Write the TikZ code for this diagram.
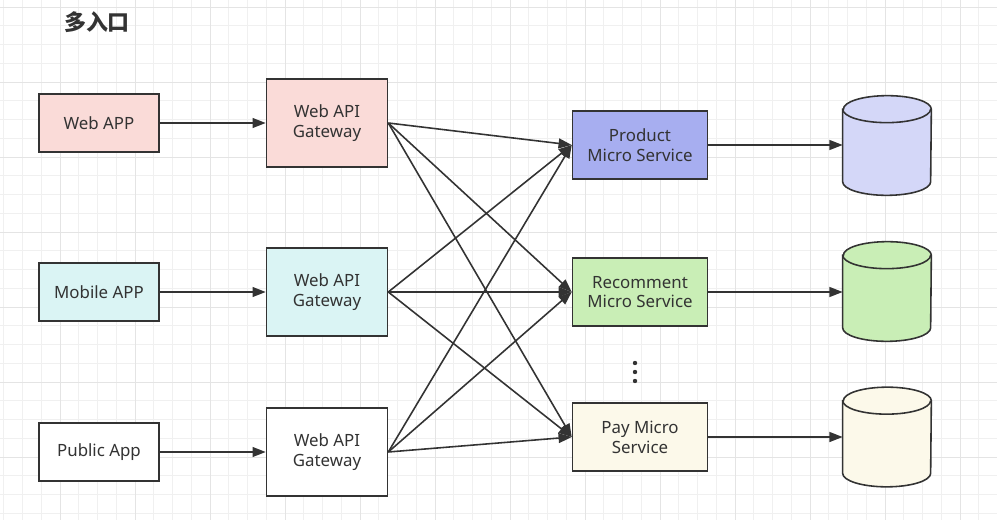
\documentclass[tikz,border=0pt]{standalone}
\usepackage{fontspec}
\setmainfont{Noto Sans}
\newfontfamily\cjk{Noto Sans CJK SC}
\usetikzlibrary{arrows.meta}

\definecolor{linegray}{HTML}{333333}
\definecolor{gridminor}{HTML}{F0F0F0}
\definecolor{gridmajor}{HTML}{E4E4E4}
\definecolor{webfill}{HTML}{FADBD8}
\definecolor{mobilefill}{HTML}{DAF4F4}
\definecolor{productfill}{HTML}{A7AEF0}
\definecolor{recofill}{HTML}{C9EEB6}
\definecolor{payfill}{HTML}{FCF9EA}
\definecolor{dbone}{HTML}{D4D7F8}

\tikzset{
  box/.style = {draw = linegray, line width = 0.9pt, align = center,
    text = linegray, font = \fontsize{9.6}{11.3}\selectfont},
  appbox/.style = {box, minimum width = 2.4cm, minimum height = 1.16cm},
  gatebox/.style = {box, minimum width = 2.42cm, minimum height = 1.76cm},
  svcbox/.style = {box, minimum width = 2.7cm, minimum height = 1.36cm},
  dbspot/.style = {inner sep = 0pt, minimum width = 1.76cm, minimum height = 1.98cm},
  link/.style = {draw = linegray, line width = 0.9pt,
    -{Triangle[length = 7.5pt, width = 5.6pt]}}
}

% cylinder drawn round a named node
\newcommand{\dbshape}[2]{%
  \draw[draw = linegray, line width = 0.9pt, fill = #2]
    ([yshift = -0.27cm]#1.north west) -- ([yshift = 0.27cm]#1.south west)
    arc[start angle = 180, end angle = 360, x radius = 0.88cm, y radius = 0.27cm]
    -- ([yshift = -0.27cm]#1.north east)
    arc[start angle = 0, end angle = 180, x radius = 0.88cm, y radius = 0.27cm]
    -- cycle;
  \draw[linegray, line width = 0.9pt]
    ([yshift = -0.27cm]#1.north west)
    arc[start angle = 180, end angle = 360, x radius = 0.88cm, y radius = 0.27cm];
}

\begin{document}
\begin{tikzpicture}[x = 0.02cm, y = -0.02cm]
\useasboundingbox (0,0) rectangle (997,520);
% background grid
\foreach \gx in {3.75, 22.5, ..., 997} \draw[gridminor, line width = 0.5pt] (\gx,0) -- (\gx,520);
\foreach \gy in {7, 25.75, ..., 520} \draw[gridminor, line width = 0.5pt] (0,\gy) -- (997,\gy);
\foreach \gx in {60, 135, ..., 997} \draw[gridmajor, line width = 0.5pt] (\gx,0) -- (\gx,520);
\foreach \gy in {7, 82, ..., 520} \draw[gridmajor, line width = 0.5pt] (0,\gy) -- (997,\gy);

\node[text = linegray, font = \cjk\bfseries\fontsize{12.5}{14}\selectfont] (title) at (97,22) {多入口};

% entrances
\node[appbox, fill = webfill] (webapp) at (99,123) {Web APP};
\node[appbox, fill = mobilefill] (mobileapp) at (99,292) {Mobile APP};
\node[appbox, fill = white] (publicapp) at (99,452) {Public App};

% gateways
\node[gatebox, fill = webfill] (gw1) at (327,123) {Web API\\Gateway};
\node[gatebox, fill = mobilefill] (gw2) at (327,292) {Web API\\Gateway};
\node[gatebox, fill = white] (gw3) at (327,452) {Web API\\Gateway};

% services
\node[svcbox, fill = productfill] (product) at (640,145) {Product\\Micro Service};
\node[svcbox, fill = recofill] (recomment) at (640,292) {Recomment\\Micro Service};
\node[svcbox, fill = payfill] (pay) at (640,437) {Pay Micro\\Service};

% databases
\node[dbspot] (db1) at (887,145.5) {};
\node[dbspot] (db2) at (887,291.5) {};
\node[dbspot] (db3) at (887,437) {};
\dbshape{db1}{dbone}
\dbshape{db2}{recofill}
\dbshape{db3}{payfill}

% dots
\foreach \dy in {363, 372, 381} \fill[linegray] (635,\dy) circle (2.2);

\draw[link] (webapp) -- (gw1);
\draw[link] (mobileapp) -- (gw2);
\draw[link] (publicapp) -- (gw3);
\foreach \g in {gw1, gw2, gw3}
  \foreach \s in {product, recomment, pay}
    \draw[link] (\g.east) -- (\s.west);
\draw[link] (product) -- (db1.west |- product.east);
\draw[link] (recomment) -- (db2.west |- recomment.east);
\draw[link] (pay) -- (db3.west |- pay.east);
\end{tikzpicture}
\end{document}
